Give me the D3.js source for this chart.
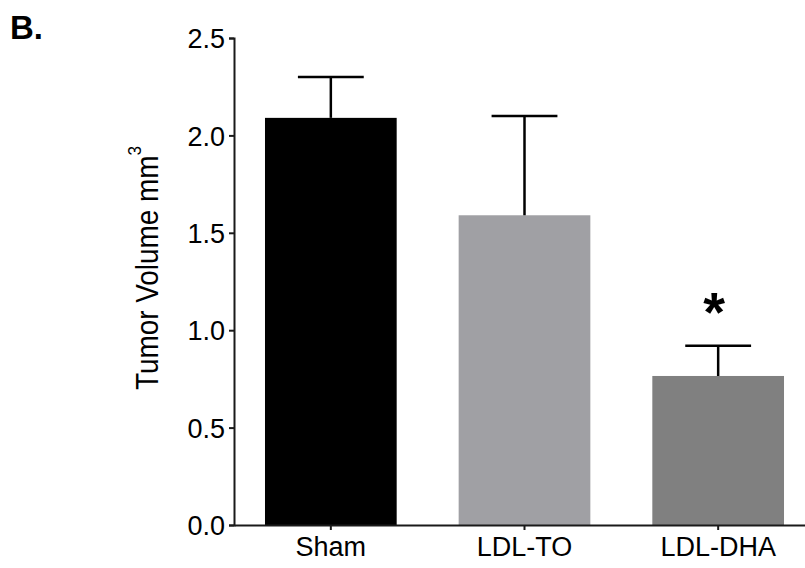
<!DOCTYPE html>
<html>
<head>
<meta charset="utf-8">
<script src="https://cdn.jsdelivr.net/npm/d3@7"></script>
<style>
  body { margin: 0; background: #fff; }
  text { font-family: "Liberation Sans", Arial, sans-serif; }
</style>
</head>
<body>
<script>
// groups and values
var groups = ["Sham", "LDL-TO", "LDL-DHA"];
var means = [2.09, 1.59, 0.765];
var errors = [0.21, 0.51, 0.155];
var signif = ["", "", "*"];
var colors = ["#000000", "#a0a0a4", "#808080"];
var yTicks = [0.0, 0.5, 1.0, 1.5, 2.0, 2.5];

var w = 805, h = 568;
var margin = {top: 38, right: -10, bottom: 43, left: 234},
    width = w - margin.left - margin.right,
    height = h - margin.top - margin.bottom;

var svg = d3.select("body").append("svg")
    .attr("width", w)
    .attr("height", h);

var g = svg.append("g")
    .attr("transform", "translate(" + margin.left + "," + margin.top + ")");

var xScale = d3.scaleBand()
    .domain(groups)
    .range([0, width])
    .paddingInner(0.32)
    .paddingOuter(0.16);

var yScale = d3.scaleLinear()
    .domain([0, 2.5])
    .range([height, 0]);

// bars
g.selectAll(".bar")
    .data(groups)
  .enter().append("rect")
    .attr("class", "bar")
    .attr("x", function(d) { return xScale(d); })
    .attr("y", function(d, i) { return yScale(means[i]); })
    .attr("width", xScale.bandwidth())
    .attr("height", function(d, i) { return height - yScale(means[i]); })
    .attr("fill", function(d, i) { return colors[i]; });

// error bars (upper only)
var err = g.selectAll(".err")
    .data(groups)
  .enter().append("g")
    .attr("class", "err")
    .attr("stroke", "#000")
    .attr("stroke-width", 2.5);

err.append("line")
    .attr("x1", function(d) { return xScale(d) + xScale.bandwidth() / 2; })
    .attr("x2", function(d) { return xScale(d) + xScale.bandwidth() / 2; })
    .attr("y1", function(d, i) { return yScale(means[i]); })
    .attr("y2", function(d, i) { return yScale(means[i] + errors[i]); });

err.append("line")
    .attr("x1", function(d) { return xScale(d) + xScale.bandwidth() / 4; })
    .attr("x2", function(d) { return xScale(d) + xScale.bandwidth() * 3 / 4; })
    .attr("y1", function(d, i) { return yScale(means[i] + errors[i]); })
    .attr("y2", function(d, i) { return yScale(means[i] + errors[i]); });

// significance marks
g.selectAll(".sig")
    .data(groups)
  .enter().append("text")
    .attr("class", "sig")
    .attr("x", function(d) { return xScale(d) + xScale.bandwidth() / 2 - 4; })
    .attr("y", function(d, i) { return yScale(means[i] + errors[i]) - 15; })
    .attr("text-anchor", "middle")
    .attr("font-size", "56px")
    .attr("font-weight", "bold")
    .attr("fill", "#000")
    .text(function(d, i) { return signif[i]; });

// axes
var yAxis = g.append("g")
    .attr("class", "axis-y")
    .call(d3.axisLeft(yScale).tickValues(yTicks).tickFormat(d3.format(".1f")).tickSize(5).tickPadding(4));

var xAxis = g.append("g")
    .attr("class", "axis-x")
    .attr("transform", "translate(0," + height + ")")
    .call(d3.axisBottom(xScale).tickSize(5).tickSizeOuter(0).tickPadding(7));

g.selectAll(".axis-y path, .axis-x path, .axis-y line, .axis-x line")
    .attr("stroke", "#1a1a1a")
    .attr("stroke-width", 2);

g.selectAll(".axis-y text, .axis-x text")
    .attr("font-family", "'Liberation Sans', Arial, sans-serif")
    .attr("font-size", "27px")
    .attr("fill", "#000");

g.selectAll(".axis-y text").attr("dy", "0.36em");

// y label, slightly condensed like the original
var ylab = svg.append("text")
    .attr("transform", "translate(158,268) rotate(-90) scale(0.9,1)")
    .attr("text-anchor", "middle")
    .attr("font-size", "31px")
    .attr("fill", "#000");
ylab.append("tspan").text("Tumor Volume mm");
ylab.append("tspan")
    .attr("font-size", "19px")
    .attr("dy", "-17")
    .text("3");

// panel letter
svg.append("text")
    .attr("x", 10)
    .attr("y", 39)
    .attr("font-size", "33px")
    .attr("font-weight", "bold")
    .attr("fill", "#000")
    .text("B.");
</script>
</body>
</html>
